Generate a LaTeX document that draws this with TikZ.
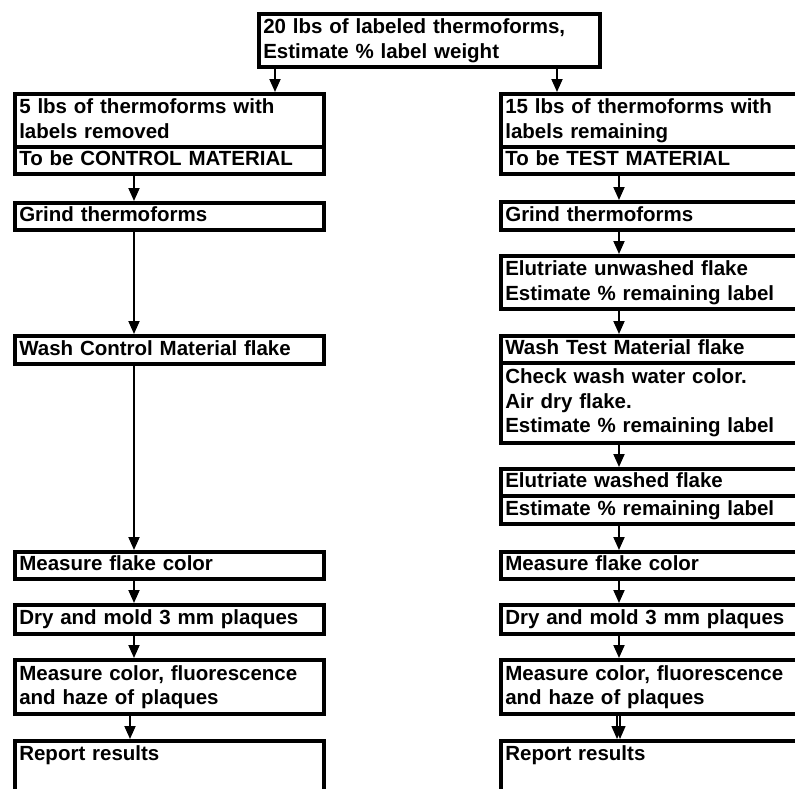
\documentclass[tikz,border=0pt]{standalone}
\usepackage{fontspec}
\setmainfont{Liberation Sans}
\usetikzlibrary{arrows.meta}
\newcommand{\boxfont}{\fontsize{20.5}{24.5}\selectfont\bfseries}
\tikzset{
  stepbox/.style={draw, line width=3.6pt, rectangle, anchor=north west,
    minimum width=309pt, text width=300pt, inner xsep=4.5pt, inner ysep=0pt,
    align=left, font=\boxfont, text height=15pt, text depth=4pt, minimum height=#1},
  stepbox/.default=28pt,
  two/.style={text depth=28.5pt},
  three/.style={text depth=53pt},
  flow/.style={->, line width=1.9pt}
}

\begin{document}
\begin{tikzpicture}[line cap=butt,line join=miter,>={Triangle[length=13pt,width=11pt]},x=1pt,y=-1pt]
	\useasboundingbox (0,0) rectangle (795,788);
	\clip (0,0) rectangle (795,788);
	\node[stepbox=53pt, two, minimum width=341pt, text width=332pt] (start) at (257,12) {20 lbs of labeled thermoforms,\\Estimate \% label weight};

	\node[stepbox=53pt, two] (ctrlA) at (13,92) {5 lbs of thermoforms with\\labels removed};
	\node[stepbox=27pt] (ctrlB) at (13,145) {To be CONTROL MATERIAL};
	\node[stepbox=27pt] (ctrlGrind) at (13,201) {Grind thermoforms};
	\node[stepbox] (ctrlWash) at (13,334) {Wash Control Material flake};
	\node[stepbox=27pt] (ctrlFlake) at (13,550) {Measure flake color};
	\node[stepbox=29pt] (ctrlMold) at (13,603) {Dry and mold 3 mm plaques};
	\node[stepbox=54pt, two] (ctrlPlaque) at (13,658) {Measure color, fluorescence\\and haze of plaques};
	\node[stepbox=70pt, text depth=46pt] (ctrlReport) at (13,739) {Report results};

	\node[stepbox=53pt, two] (testA) at (499,92) {15 lbs of thermoforms with\\labels remaining};
	\node[stepbox=27pt] (testB) at (499,145) {To be TEST MATERIAL};
	\node[stepbox] (testGrind) at (499,200) {Grind thermoforms};
	\node[stepbox=53pt, two] (testElu) at (499,254) {Elutriate unwashed flake\\Estimate \% remaining label};
	\node[stepbox=27pt] (testWash) at (499,334) {Wash Test Material flake};
	\node[stepbox=80pt, three] (testCheck) at (499,361) {Check wash water color.\\Air dry flake.\\Estimate \% remaining label};
	\node[stepbox=27pt] (testEluB) at (499,467) {Elutriate washed flake};
	\node[stepbox] (testEst) at (499,494) {Estimate \% remaining label};
	\node[stepbox=27pt] (testFlake) at (499,550) {Measure flake color};
	\node[stepbox=29pt] (testMold) at (499,603) {Dry and mold 3 mm plaques};
	\node[stepbox=54pt, two] (testPlaque) at (499,658) {Measure color, fluorescence\\and haze of plaques};
	\node[stepbox=70pt, text depth=46pt] (testReport) at (499,739) {Report results};

	\coordinate (splitL) at (275,0);
	\coordinate (splitR) at (557,0);
	\coordinate (lx) at (134,0);
	\coordinate (rx) at (619,0);
	\draw[flow] (start.south -| splitL) -- (ctrlA.north -| splitL);
	\draw[flow] (start.south -| splitR) -- (testA.north -| splitR);
	\foreach \a/\b in {ctrlB/ctrlGrind,ctrlGrind/ctrlWash,ctrlWash/ctrlFlake,ctrlFlake/ctrlMold,ctrlMold/ctrlPlaque}
	\draw[flow] (\a.south -| lx) -- (\b.north -| lx);
	\draw[flow] ([xshift=-4pt]ctrlPlaque.south -| lx) -- ([xshift=-4pt]ctrlReport.north -| lx);
	\foreach \a/\b in {testB/testGrind,testGrind/testElu,testElu/testWash,testCheck/testEluB,testEst/testFlake,testFlake/testMold,testMold/testPlaque}
	\draw[flow] (\a.south -| rx) -- (\b.north -| rx);
	\draw[flow,line width=1.3pt] ([xshift=-2pt]testPlaque.south -| rx) -- ([xshift=-2pt]testReport.north -| rx);
	\draw[flow,line width=1.3pt] ([xshift=1pt]testPlaque.south -| rx) -- ([xshift=1pt]testReport.north -| rx);
\end{tikzpicture}
\end{document}
